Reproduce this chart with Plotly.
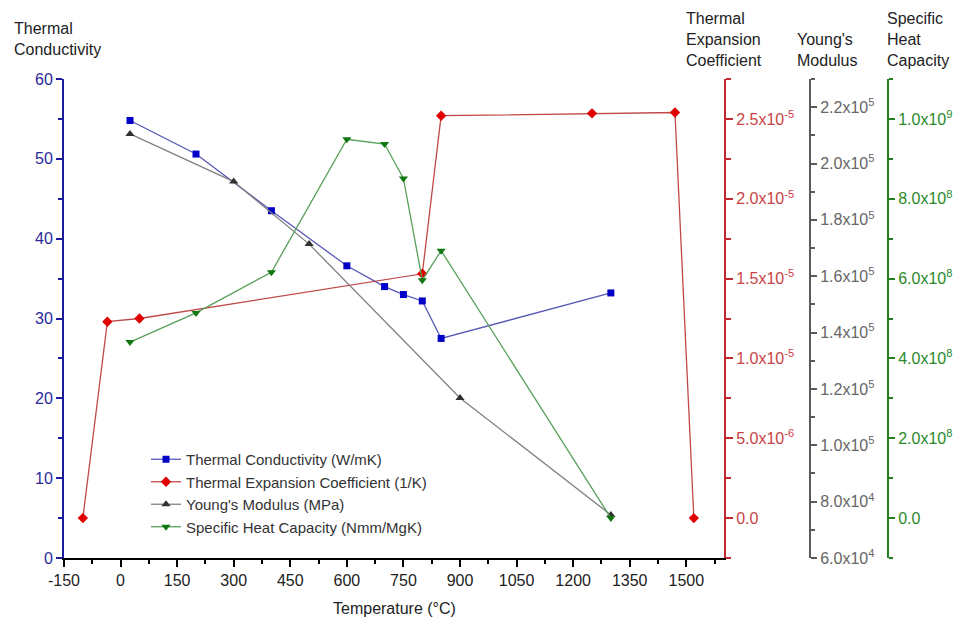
import plotly.graph_objects as go

# ---- data ----
cond_temp = [25, 200, 400, 600, 700, 750, 800, 850, 1300]
cond_vals = [54.8, 50.6, 43.5, 36.6, 34.0, 33.0, 32.2, 27.5, 33.2]

exp_temp = [-100, -35, 50, 800, 850, 1250, 1470, 1520]
exp_vals = [0.0, 1.23e-5, 1.25e-5, 1.53e-5, 2.52e-5, 2.535e-5, 2.54e-5, 0.0]

young_temp = [25, 300, 500, 900, 1300]
young_vals = [2.105e5, 1.936e5, 1.714e5, 1.168e5, 7.53e4]

heat_temp = [25, 200, 400, 600, 700, 750, 800, 850, 1300]
heat_vals = [4.41e8, 5.14e8, 6.16e8, 9.49e8, 9.37e8, 8.51e8, 5.96e8, 6.70e8, 0.0]

x_ticks = [-150, 0, 150, 300, 450, 600, 750, 900, 1050, 1200, 1350, 1500]
x_ticktext = ["-150", "0", "150", "300", "450", "600", "750", "900", "1050", "1200", "1350", "1500"]
cond_ticks = [0, 10, 20, 30, 40, 50, 60]
exp_tickvals = [0.0, 5e-6, 1e-5, 1.5e-5, 2e-5, 2.5e-5]
exp_ticktext = ["0.0", "5.0x10<sup>-6</sup>", "1.0x10<sup>-5</sup>", "1.5x10<sup>-5</sup>",
                "2.0x10<sup>-5</sup>", "2.5x10<sup>-5</sup>"]
young_tickvals = [6e4, 8e4, 1e5, 1.2e5, 1.4e5, 1.6e5, 1.8e5, 2.0e5, 2.2e5]
young_ticktext = ["6.0x10<sup>4</sup>", "8.0x10<sup>4</sup>", "1.0x10<sup>5</sup>", "1.2x10<sup>5</sup>",
                  "1.4x10<sup>5</sup>", "1.6x10<sup>5</sup>", "1.8x10<sup>5</sup>", "2.0x10<sup>5</sup>",
                  "2.2x10<sup>5</sup>"]
heat_tickvals = [0.0, 2e8, 4e8, 6e8, 8e8, 1e9]
heat_ticktext = ["0.0", "2.0x10<sup>8</sup>", "4.0x10<sup>8</sup>", "6.0x10<sup>8</sup>",
                 "8.0x10<sup>8</sup>", "1.0x10<sup>9</sup>"]

FONT = "Liberation Sans, Arial, sans-serif"
BLUE_AX, RED_AX, GRAY_AX, GREEN_AX = "#1c1c9c", "#c0282d", "#5a5a5a", "#1f7f1f"

fig = go.Figure()
fig.add_trace(go.Scatter(x=cond_temp, y=cond_vals, name="Thermal Conductivity (W/mK)",
                         mode="lines+markers", yaxis="y",
                         line=dict(color="#5858b8", width=1.3),
                         marker=dict(symbol="square", size=7, color="#0000c8")))
fig.add_trace(go.Scatter(x=exp_temp, y=exp_vals, name="Thermal Expansion Coefficient (1/K)",
                         mode="lines+markers", yaxis="y2",
                         line=dict(color="#c04848", width=1.3),
                         marker=dict(symbol="diamond", size=8, color="#e00000")))
fig.add_trace(go.Scatter(x=young_temp, y=young_vals, name="Young's Modulus (MPa)",
                         mode="lines+markers", yaxis="y3",
                         line=dict(color="#808080", width=1.3),
                         marker=dict(symbol="triangle-up", size=8, color="#303030")))
fig.add_trace(go.Scatter(x=heat_temp, y=heat_vals, name="Specific Heat Capacity (Nmm/MgK)",
                         mode="lines+markers", yaxis="y4",
                         line=dict(color="#58a058", width=1.3),
                         marker=dict(symbol="triangle-down", size=8, color="#117711")))

W_PLOT = 824.0
H_PLOT = 479.0

def px_x(px):
    return (px - 64) / W_PLOT

def px_y(py):
    return (558 - py) / H_PLOT

fig.update_layout(
    width=979, height=629,
    margin=dict(l=64, r=91, t=79, b=71),
    paper_bgcolor="white", plot_bgcolor="white",
    font=dict(family=FONT, size=16, color="#222"),
    showlegend=True,
    legend=dict(x=px_x(146), y=px_y(443), xanchor="left", yanchor="top",
                bgcolor="rgba(0,0,0,0)", font=dict(family=FONT, size=15, color="#333"),
                tracegroupgap=0, itemwidth=30),
    xaxis=dict(domain=[0, 660 / W_PLOT], range=[-150, 1600], tickmode="array", tickvals=x_ticks,
               ticktext=x_ticktext,
               showline=True, linecolor="black", linewidth=2, ticks="outside", ticklen=7,
               tickwidth=2, tickcolor="black", showgrid=False, zeroline=False,
               tickfont=dict(family=FONT, size=16, color="#222"),
               minor=dict(dtick=75, tick0=-150, ticks="outside", ticklen=4, tickcolor="black", tickwidth=1.5)),
    yaxis=dict(range=[0, 60], tickmode="array", tickvals=cond_ticks, showline=True,
               linecolor=BLUE_AX, linewidth=2, ticks="outside", ticklen=6, tickwidth=2,
               tickcolor=BLUE_AX, showgrid=False, zeroline=False,
               tickfont=dict(family=FONT, size=16, color="#2a2a9a"),
               minor=dict(dtick=5, tick0=0, ticks="outside", ticklen=4, tickcolor=BLUE_AX, tickwidth=1.5)),
    yaxis2=dict(range=[-2.5e-6, 2.75e-5], overlaying="y", side="right", anchor="x",
                tickmode="array", tickvals=exp_tickvals, ticktext=exp_ticktext, showline=True,
                linecolor=RED_AX, linewidth=2, ticks="outside", ticklen=7, tickwidth=2,
                tickcolor=RED_AX, showgrid=False, zeroline=False,
                tickfont=dict(family=FONT, size=16, color="#c84444"),
                minor=dict(dtick=2.5e-6, tick0=0, ticks="outside", ticklen=5, tickcolor=RED_AX, tickwidth=1.5)),
    yaxis3=dict(range=[6e4, 2.3e5], overlaying="y", side="right", anchor="free",
                position=px_x(810), tickmode="array", tickvals=young_tickvals,
                ticktext=young_ticktext, showline=True, linecolor=GRAY_AX, linewidth=2,
                ticks="outside", ticklen=6, tickwidth=2, tickcolor=GRAY_AX, showgrid=False,
                zeroline=False, tickfont=dict(family=FONT, size=16, color="#666"),
                minor=dict(dtick=1e4, tick0=6e4, ticks="outside", ticklen=4, tickcolor=GRAY_AX, tickwidth=1.5)),
    yaxis4=dict(range=[-1e8, 1.1e9], overlaying="y", side="right", anchor="free",
                position=1.0, tickmode="array", tickvals=heat_tickvals, ticktext=heat_ticktext,
                showline=True, linecolor=GREEN_AX, linewidth=2, ticks="outside", ticklen=6,
                tickwidth=2, tickcolor=GREEN_AX, showgrid=False, zeroline=False,
                tickfont=dict(family=FONT, size=16, color="#2a8a2a"),
                minor=dict(dtick=1e8, tick0=0, ticks="outside", ticklen=4, tickcolor=GREEN_AX, tickwidth=1.5)),
)

ann_font = dict(family=FONT, size=16, color="#222")
titles = [
    ("Thermal<br>Conductivity", 12, 18),
    ("Thermal<br>Expansion<br>Coefficient", 684, 8),
    ("Young's<br>Modulus", 795, 29),
    ("Specific<br>Heat<br>Capacity", 885, 8),
]
for text, lx, ty in titles:
    fig.add_annotation(text=text, x=px_x(lx), y=px_y(ty), xref="paper", yref="paper",
                       xanchor="left", yanchor="top", align="left", showarrow=False, font=ann_font)
fig.add_annotation(text="Temperature (°C)", x=px_x(394), y=px_y(608), xref="paper", yref="paper",
                   xanchor="center", yanchor="middle", showarrow=False, font=ann_font)

fig.write_html("out.html")
